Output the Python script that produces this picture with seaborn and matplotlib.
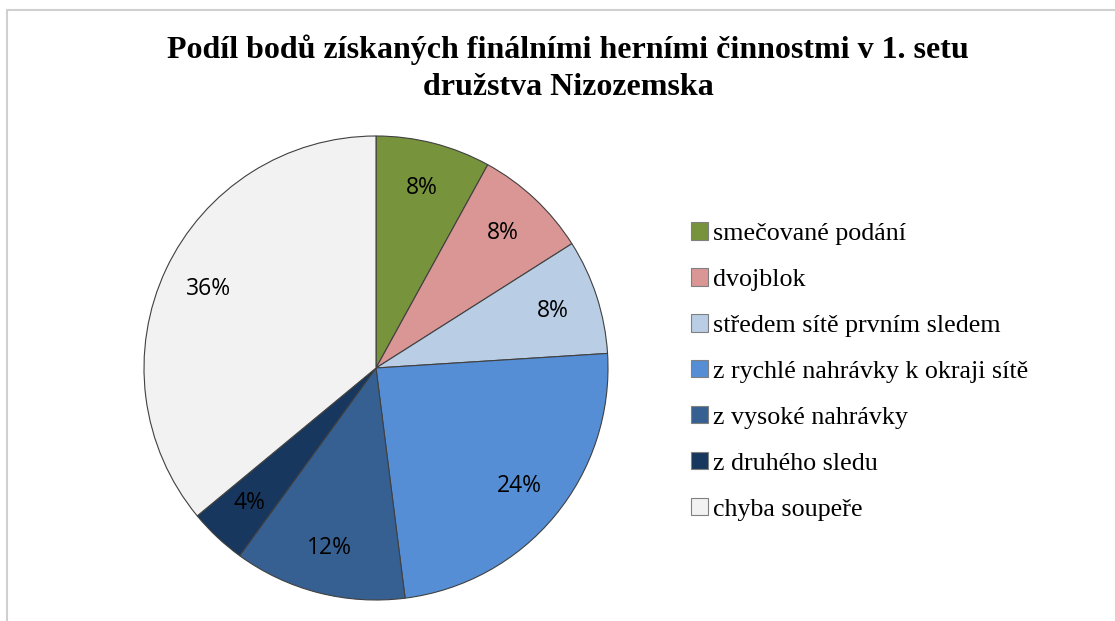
import matplotlib
matplotlib.use("Agg")
import matplotlib.pyplot as plt
import seaborn as sns
from matplotlib.patches import Rectangle, Patch

categories = ["smečované podání", "dvojblok", "středem sítě prvním sledem",
              "z rychlé nahrávky k okraji sítě", "z vysoké nahrávky",
              "z druhého sledu", "chyba soupeře"]
values = [2, 2, 2, 6, 3, 1, 9]
colors = ["#77933C", "#D99694", "#B9CDE5", "#558ED5", "#376092", "#17375E", "#F2F2F2"]
title = "Podíl bodů získaných finálními herními činnostmi v 1. setu\ndružstva Nizozemska"

sns.set_theme(style="white")
plt.rcParams['font.family'] = ['Liberation Serif', 'DejaVu Serif']
plt.rcParams['text.color'] = 'black'
palette = sns.color_palette(colors)

fig = plt.figure(figsize=(11.15, 6.21), dpi=100)
fig.patches.append(Rectangle((7/1115, -0.1), 1.2, 1 - 10/621 + 0.1, transform=fig.transFigure,
                             fill=False, edgecolor="#D0D0D0", linewidth=1.5, zorder=0))

ax = fig.add_axes([(376 - 232) / 1115, 1 - (368 + 232) / 621, 464 / 1115, 464 / 621])
wedges, texts, autotexts = ax.pie(
    values, colors=palette, startangle=90, counterclock=False,
    autopct=lambda p: f"{p:.0f}%", pctdistance=0.80,
    wedgeprops=dict(edgecolor="#404040", linewidth=0.8),
    textprops=dict(fontsize=16.5, family=['Open Sans', 'DejaVu Sans'], color="black"))
ax.set_xlim(-1, 1)
ax.set_ylim(-1, 1)
ax.set_aspect("equal")
for w in wedges:
    w.set_clip_on(False)

fig.text(568 / 1115, 1 - 68 / 621, title, ha="center", va="center", fontsize=23,
         fontweight="bold", linespacing=1.38, color="black")

handles = [Patch(facecolor=c, edgecolor="#808080", linewidth=0.8) for c in palette]
fig.legend(handles, categories, loc="upper left", bbox_to_anchor=(681 / 1115, 1 - 212 / 621),
           frameon=False, fontsize=18.7, handlelength=0.65, handleheight=0.65,
           handletextpad=0.2, labelspacing=0.89, borderaxespad=0, labelcolor="black")

fig.savefig("out.png", dpi=100)
